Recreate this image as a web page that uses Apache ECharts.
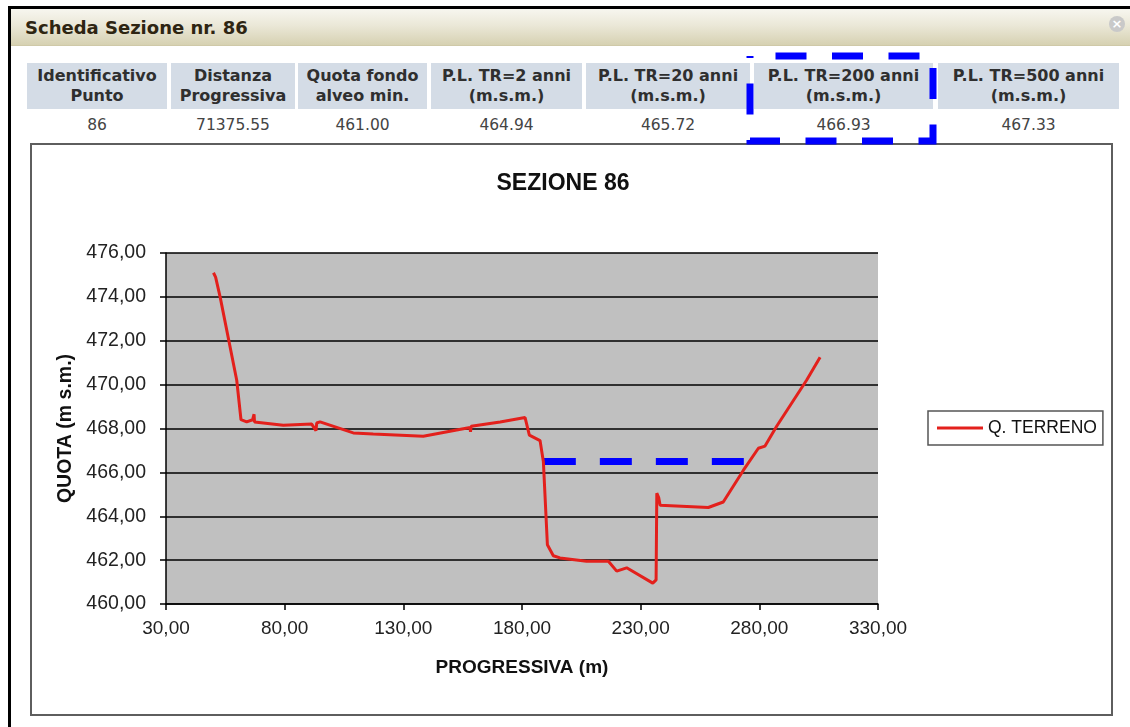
<!DOCTYPE html>
<html>
<head>
<meta charset="utf-8" />
<title>Scheda Sezione nr. 86</title>
<style>
  body { margin: 0; background: #fff; width: 1130px; height: 727px; overflow: hidden; position: relative; font-family: "DejaVu Sans", Verdana, sans-serif; }
  #frame { position: absolute; left: 8px; top: 6px; width: 1200px; height: 800px; border-left: 3px solid #000; border-top: 3px solid #000; }
  #bar { position: absolute; left: 11px; top: 9px; width: 1119px; height: 36px;
    background: linear-gradient(to bottom, #f7f6ef 0%, #ebe8d8 45%, #d6d1b2 100%);
    border-bottom: 1px solid #cfc9a8; }
  #barTitle { position: absolute; left: 25px; top: 9px; height: 36px; line-height: 38px; font-weight: bold; font-size: 18px; color: #2e2512; }
  #close { position: absolute; left: 1109px; top: 16px; width: 16px; height: 16px; border-radius: 50%; background: #c9c9c9; color: #fff; font-size: 13px; line-height: 16px; text-align: center; font-weight: bold; }
  .hcell { position: absolute; top: 63px; height: 46px; padding-top: 3px; box-sizing: border-box; background: #d4dce6; text-align: center; font-weight: bold; font-size: 16px; line-height: 20px; color: #2f2f2f; }
  .vcell { position: absolute; top: 115px; height: 20px; text-align: center; font-size: 15.5px; line-height: 20px; color: #444; }
  #box { position: absolute; left: 30px; top: 143px; width: 1083px; height: 573px; border: 2px solid #5e5e5e; box-sizing: border-box; background: #fff; }
  #chart { width: 1079px; height: 569px; }
  #mark { position: absolute; left: 0; top: 0; width: 1130px; height: 727px; pointer-events: none; }
</style>
</head>
<body>
<div id="frame"></div>
<div id="bar"></div>
<div id="barTitle">Scheda Sezione nr. 86</div>
<div id="close">×</div>
<div id="tbl"></div>
<div id="box"><div id="chart"></div></div>
<svg id="mark" width="1130" height="727">
  <rect x="750" y="56" width="183" height="85" fill="none" stroke="#0000ff" stroke-width="7" stroke-dasharray="31 25.5" stroke-dashoffset="31" />
</svg>
<script src="https://cdn.jsdelivr.net/npm/echarts@6.0.0/dist/echarts.min.js"></script>
<script>
// table
var colHeaders = ['Identificativo<br>Punto', 'Distanza<br>Progressiva', 'Quota fondo<br>alveo min.',
  'P.L. TR=2 anni<br>(m.s.m.)', 'P.L. TR=20 anni<br>(m.s.m.)', 'P.L. TR=200 anni<br>(m.s.m.)', 'P.L. TR=500 anni<br>(m.s.m.)'];
var colValues = ['86', '71375.55', '461.00', '464.94', '465.72', '466.93', '467.33'];

// profilo terreno
var progressiva = [50.0, 50.9, 52.8, 59.8, 61.6, 64.0, 66.5, 67.1, 67.3, 67.9, 79.4, 91.4, 93.2, 93.5, 94.9,
  108.9, 117.3, 138.4, 158.1, 158.3, 158.6, 170.8, 181.3, 183.1, 187.6, 189.0, 190.7, 193.2, 196.0,
  207.2, 216.4, 219.9, 224.1, 235.1, 236.5, 236.8, 237.6, 238.2, 258.5, 264.8, 273.3, 279.6, 282.4,
  287.3, 299.9, 305.6];
var quota = [475.1, 474.9, 474.0, 470.2, 468.4, 468.3, 468.4, 468.65, 468.3, 468.25, 468.15, 468.2, 467.9, 468.25, 468.3,
  467.8, 467.75, 467.65, 468.05, 467.85, 468.1, 468.3, 468.5, 467.7, 467.45, 466.5, 462.7, 462.2, 462.1,
  461.95, 461.95, 461.5, 461.65, 460.95, 461.1, 465.05, 464.85, 464.5, 464.4, 464.65, 466.1, 467.1, 467.2,
  468.1, 470.2, 471.25];

// livello piena TR=200 (linea tratteggiata)
var pl200X = [189.2, 273.5];
var pl200Y = [466.5, 466.5];

var xTicks = { min: 30, max: 330, step: 50 };
var yTicks = { min: 460, max: 476, step: 2 };

// celle tabella
var colLeft = [27, 171, 298, 431, 586, 754, 938];
var colWidth = [140, 124, 129, 151, 164, 179, 181];
var html = [];
for (var i = 0; i < colHeaders.length; i++) {
  html.push('<div class="hcell" style="left:' + colLeft[i] + 'px;width:' + colWidth[i] + 'px">' + colHeaders[i] + '</div>');
  html.push('<div class="vcell" style="left:' + colLeft[i] + 'px;width:' + colWidth[i] + 'px">' + colValues[i] + '</div>');
}
document.getElementById('tbl').innerHTML = html.join('');

function fmt(v) {
  return v.toFixed(2).replace('.', ',');
}

var terreno = [];
for (var k = 0; k < progressiva.length; k++) terreno.push([progressiva[k], quota[k]]);
var livello = [];
for (var j = 0; j < pl200X.length; j++) livello.push([pl200X[j], pl200Y[j]]);

var _font = '"Liberation Sans", Arial, sans-serif';
var myChart = echarts.init(document.getElementById('chart'));
var option = {
  animation: false,
  textStyle: { fontFamily: _font },
  graphic: [{
    type: 'text',
    x: 531,
    y: 39,
    style: {
      text: 'SEZIONE 86',
      fill: '#111',
      font: 'bold 23px ' + _font,
      textAlign: 'center',
      textVerticalAlign: 'middle'
    }
  }],
  legend: {
    data: [{ name: 'Q. TERRENO', icon: 'rect' }],
    left: 896,
    top: 266,
    orient: 'vertical',
    padding: [8, 6, 8, 9],
    borderColor: '#555',
    borderWidth: 1.5,
    borderRadius: 0,
    backgroundColor: '#fff',
    itemWidth: 46,
    itemHeight: 3,
    textStyle: { fontSize: 17.5, color: '#111', fontFamily: _font }
  },
  grid: {
    left: 134,
    top: 108,
    width: 712,
    height: 351,
    show: true,
    backgroundColor: '#c0c0c0',
    borderWidth: 0
  },
  xAxis: {
    type: 'value',
    min: xTicks.min,
    max: xTicks.max,
    interval: xTicks.step,
    name: 'PROGRESSIVA (m)',
    nameLocation: 'middle',
    nameGap: 54,
    nameTextStyle: { fontSize: 19, fontWeight: 'bold', color: '#111', fontFamily: _font },
    axisLine: { lineStyle: { color: '#000', width: 1.5 } },
    axisTick: { show: true, length: 6, lineStyle: { color: '#000', width: 1.5 } },
    axisLabel: { margin: 15, fontSize: 19, color: '#222', fontFamily: _font, formatter: fmt },
    splitLine: { show: false }
  },
  yAxis: {
    type: 'value',
    min: yTicks.min,
    max: yTicks.max,
    interval: yTicks.step,
    name: 'QUOTA (m s.m.)',
    nameLocation: 'middle',
    nameGap: 86,
    nameTextStyle: { fontSize: 19.5, fontWeight: 'bold', color: '#111', fontFamily: _font },
    axisLine: { show: true, lineStyle: { color: '#000', width: 1.5 } },
    axisTick: { show: true, length: 6, lineStyle: { color: '#000', width: 1.5 } },
    axisLabel: { margin: 20, fontSize: 19.5, color: '#222', fontFamily: _font, formatter: fmt },
    splitLine: { show: true, lineStyle: { color: '#000', width: 1.5 } }
  },
  series: [{
    name: 'P.L. TR=200',
    type: 'line',
    data: livello,
    showSymbol: false,
    silent: true,
    lineStyle: { color: '#0000ff', width: 7, type: [32, 24], cap: 'butt' },
    z: 2
  }, {
    name: 'Q. TERRENO',
    type: 'line',
    data: terreno,
    showSymbol: false,
    color: '#e3201c',
    lineStyle: { color: '#e3201c', width: 3 },
    z: 3
  }]
};
myChart.setOption(option);
</script>
</body>
</html>
